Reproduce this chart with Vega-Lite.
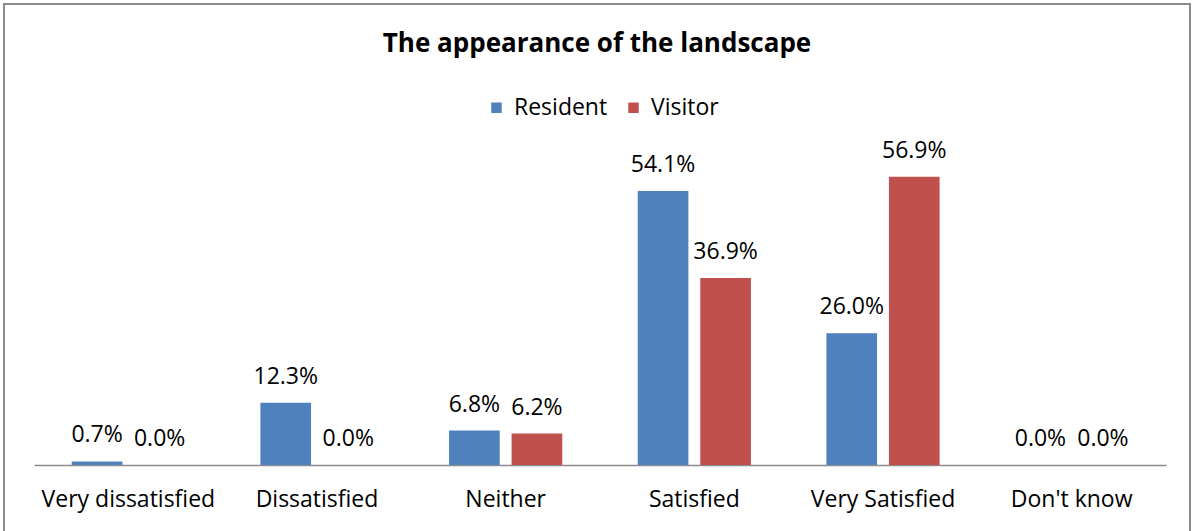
{
  "$schema": "https://vega.github.io/schema/vega-lite/v6.json",
  "width": 1186,
  "height": 530,
  "autosize": "none",
  "padding": {"left": 4, "top": 4, "right": 5, "bottom": 0},
  "background": "white",
  "config": {
    "font": "Open Sans",
    "view": {"stroke": "#8c8c8c", "strokeWidth": 2}
  },
  "title": {
    "text": "The appearance of the landscape",
    "font": "Open Sans",
    "fontSize": 26,
    "fontWeight": "bold",
    "color": "#000000",
    "anchor": "middle",
    "frame": "group",
    "baseline": "alphabetic",
    "offset": -74
  },
  "data": {
    "values": [
      {"category": "Very dissatisfied", "group": "Resident", "share": 0.007},
      {"category": "Very dissatisfied", "group": "Visitor", "share": 0.0},
      {"category": "Dissatisfied", "group": "Resident", "share": 0.123},
      {"category": "Dissatisfied", "group": "Visitor", "share": 0.0},
      {"category": "Neither", "group": "Resident", "share": 0.068},
      {"category": "Neither", "group": "Visitor", "share": 0.062},
      {"category": "Satisfied", "group": "Resident", "share": 0.541},
      {"category": "Satisfied", "group": "Visitor", "share": 0.369},
      {"category": "Very Satisfied", "group": "Resident", "share": 0.26},
      {"category": "Very Satisfied", "group": "Visitor", "share": 0.569},
      {"category": "Don't know", "group": "Resident", "share": 0.0},
      {"category": "Don't know", "group": "Visitor", "share": 0.0}
    ]
  },
  "encoding": {
    "x": {
      "field": "category",
      "type": "nominal",
      "sort": null,
      "scale": {"range": [30, 1162], "paddingInner": 0.4, "paddingOuter": 0.2},
      "axis": {
        "title": null,
        "orient": "bottom",
        "offset": -69,
        "labelAngle": 0,
        "labelFont": "Open Sans",
        "labelFontSize": 23,
        "labelColor": "#000000",
        "labelPadding": 23,
        "labelBaseline": "top",
        "ticks": false,
        "domainColor": "#8c8c8c",
        "domainWidth": 1.5,
        "grid": false
      }
    },
    "xOffset": {
      "field": "group",
      "type": "nominal",
      "scale": {"paddingInner": 0.19, "paddingOuter": 0}
    },
    "y": {
      "field": "share",
      "type": "quantitative",
      "scale": {"domain": [0, 0.6], "range": [461, 157], "nice": false},
      "axis": null
    }
  },
  "layer": [
    {
      "mark": {"type": "bar"},
      "encoding": {
        "color": {
          "field": "group",
          "type": "nominal",
          "scale": {"domain": ["Resident", "Visitor"], "range": ["#4F81BD", "#C0504D"]},
          "legend": {
            "title": null,
            "orient": "none",
            "direction": "horizontal",
            "legendX": 481,
            "legendY": 92,
            "symbolType": "square",
            "symbolSize": 110,
            "symbolStrokeWidth": 0,
            "labelFont": "Open Sans",
            "labelFontSize": 23,
            "labelColor": "#000000",
            "columnPadding": 14,
            "labelOffset": 6
          }
        }
      }
    },
    {
      "mark": {
        "type": "text",
        "baseline": "alphabetic",
        "dy": -19,
        "fontSize": 23,
        "font": "Open Sans",
        "color": "#000000"
      },
      "encoding": {
        "text": {"field": "share", "type": "quantitative", "format": ".1%"}
      }
    }
  ]
}
